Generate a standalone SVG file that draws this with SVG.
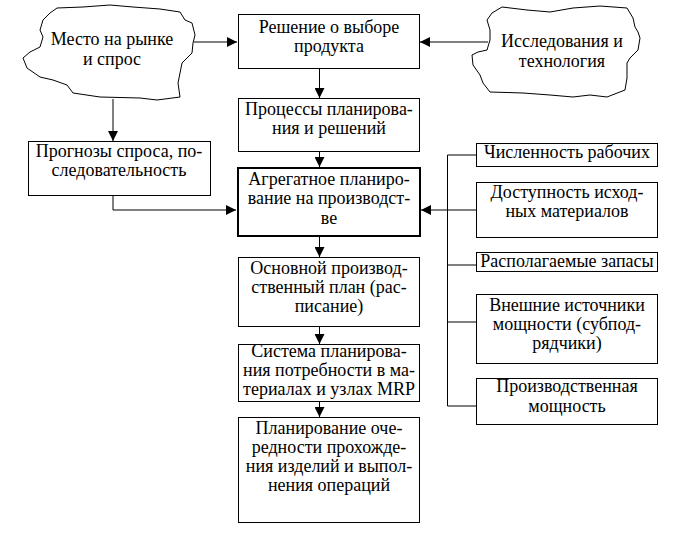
<svg xmlns="http://www.w3.org/2000/svg" width="686" height="533" viewBox="0 0 686 533" font-family="'Liberation Serif', serif">
<style>
rect{fill:#fff;stroke:#000;stroke-width:1}
.bold{stroke-width:2}
.cloud{fill:#fff;stroke:#000;stroke-width:1}
text{font-family:'Liberation Serif','Times New Roman',serif;font-size:18px;fill:#000;text-anchor:middle}
.c line,.c polyline{stroke:#000;stroke-width:1;fill:none}
</style>
<defs>
<marker id="ah" viewBox="0 0 10 10" refX="10" refY="5" markerWidth="10" markerHeight="10" markerUnits="userSpaceOnUse" orient="auto">
<path d="M0,0 L10,5 L0,10 Z" fill="#000"/>
</marker>
</defs>
<rect x="0" y="0" width="686" height="533" style="fill:#fff;stroke:none"/>
<g class="c" id="connectors">
<line x1="194" y1="42" x2="237" y2="42" marker-end="url(#ah)"/>
<line x1="488" y1="42" x2="420" y2="42" marker-end="url(#ah)"/>
<line x1="113" y1="99" x2="113" y2="141" marker-end="url(#ah)"/>
<polyline points="113,195 113,210 236,210" marker-end="url(#ah)"/>
<line x1="319.5" y1="68" x2="319.5" y2="98" marker-end="url(#ah)"/>
<line x1="319.5" y1="151" x2="319.5" y2="167" marker-end="url(#ah)"/>
<line x1="319.5" y1="237" x2="319.5" y2="257" marker-end="url(#ah)"/>
<line x1="319.5" y1="326" x2="319.5" y2="344" marker-end="url(#ah)"/>
<line x1="319.5" y1="401" x2="319.5" y2="417" marker-end="url(#ah)"/>
<line x1="447.5" y1="155" x2="447.5" y2="406"/>
<line x1="447.5" y1="155" x2="476" y2="155"/>
<line x1="447.5" y1="210" x2="476" y2="210"/>
<line x1="447.5" y1="265" x2="476" y2="265"/>
<line x1="447.5" y1="322" x2="476" y2="322"/>
<line x1="447.5" y1="406" x2="476" y2="406"/>
<line x1="447.5" y1="210" x2="421" y2="210" marker-end="url(#ah)"/>
</g>
<g id="market">
<path class="cloud" d="M50,13 L57,8 L83,7 L110,5 L133,7 L160,9 L180,12 L185,20 L192,23 L195,35 L193,43 L192,53 L182,63 L178,83 L180,97 L157,100 L140,98 L100,97 L73,93 L67,85 L53,80 L40,77 L27,68 L23,58 L30,52 L40,47 L43,37 L40,30 L43,20 Z"/>
<text x="112" y="45">Место на рынке</text>
<text x="112" y="65">и спрос</text>
</g>
<g id="research">
<path class="cloud" d="M492,13 L502,7 L527,10 L550,12 L573,8 L600,6 L627,8 L633,18 L635,27 L638,32 L640,38 L638,50 L630,58 L627,63 L627,78 L625,90 L607,97 L590,95 L573,97 L550,95 L523,93 L490,92 L483,83 L480,75 L473,65 L472,55 L478,52 L487,50 L490,40 L490,30 L487,20 Z"/>
<text x="562" y="47">Исследования и</text>
<text x="562" y="67">технология</text>
</g>
<g id="decision">
<rect x="238.5" y="14.5" width="181" height="54"/>
<text x="329" y="33">Решение о выборе</text>
<text x="329" y="52">продукта</text>
</g>
<g id="processes">
<rect x="238.5" y="98.5" width="181" height="53"/>
<text x="329" y="115">Процессы планирова-</text>
<text x="329" y="134">ния и решений</text>
</g>
<g id="forecast">
<rect x="28.5" y="141.5" width="182" height="54"/>
<text x="119" y="157">Прогнозы спроса, по-</text>
<text x="119" y="176">следовательность</text>
</g>
<g id="aggregate">
<rect class="bold" x="238" y="168" width="182" height="68"/>
<text x="329" y="185">Агрегатное планиро-</text>
<text x="329" y="204">вание на производст-</text>
<text x="329" y="224">ве</text>
</g>
<g id="master">
<rect x="238.5" y="257.5" width="181" height="69"/>
<text x="329" y="274">Основной производ-</text>
<text x="329" y="293">ственный план (рас-</text>
<text x="329" y="312">писание)</text>
</g>
<g id="mrp">
<rect x="238.5" y="344.5" width="181" height="57"/>
<text x="329" y="357">Система планирова-</text>
<text x="329" y="376">ния потребности в ма-</text>
<text x="329" y="395">териалах и узлах MRP</text>
</g>
<g id="sequencing">
<rect x="238.5" y="417.5" width="181" height="105"/>
<text x="329" y="434">Планирование оче-</text>
<text x="329" y="453">редности прохожде-</text>
<text x="329" y="472">ния изделий и выпол-</text>
<text x="329" y="491">нения операций</text>
</g>
<g id="workers">
<rect x="476.5" y="143.5" width="181" height="23"/>
<text x="567" y="158">Численность рабочих</text>
</g>
<g id="materials">
<rect x="476.5" y="182.5" width="181" height="55"/>
<text x="567" y="198">Доступность исход-</text>
<text x="567" y="217">ных материалов</text>
</g>
<g id="stocks">
<rect x="476.5" y="252.5" width="181" height="19"/>
<text x="567" y="267">Располагаемые запасы</text>
</g>
<g id="external">
<rect x="476.5" y="294.5" width="181" height="69"/>
<text x="567" y="311">Внешние источники</text>
<text x="567" y="330">мощности (субпод-</text>
<text x="567" y="349">рядчики)</text>
</g>
<g id="capacity">
<rect x="476.5" y="378.5" width="181" height="46"/>
<text x="567" y="392">Производственная</text>
<text x="567" y="412">мощность</text>
</g>
</svg>
